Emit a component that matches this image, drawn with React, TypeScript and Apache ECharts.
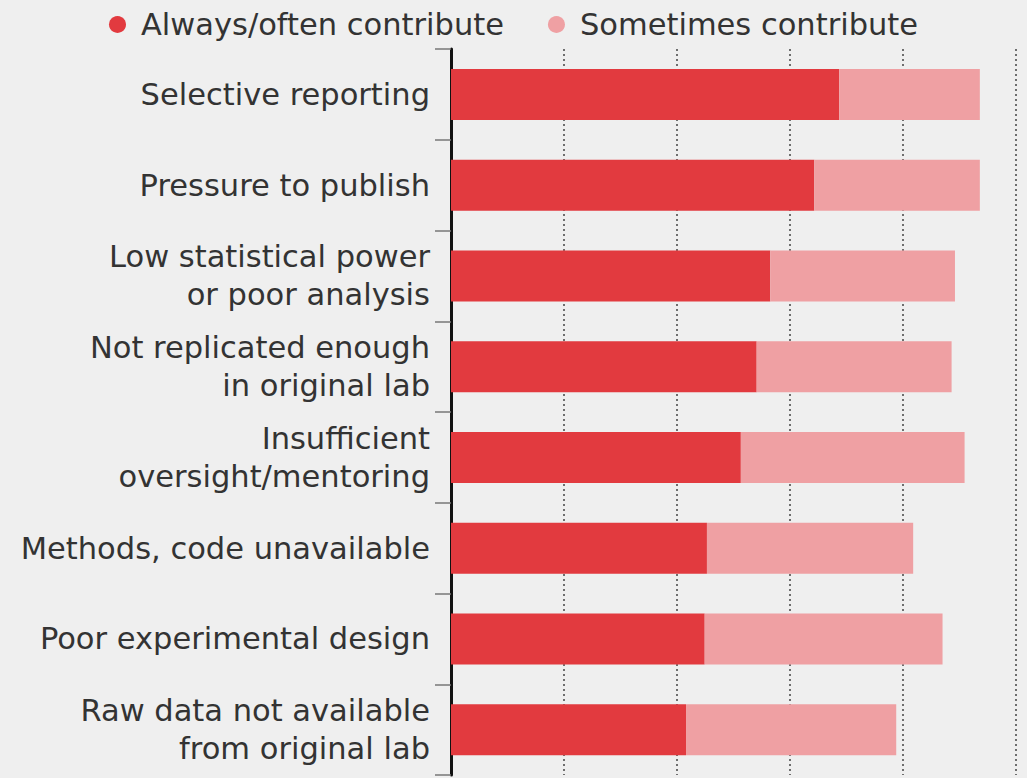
import React, { useEffect, useRef } from "react";
import * as echarts from "echarts";

const categories = [
  "Selective reporting",
  "Pressure to publish",
  "Low statistical power\nor poor analysis",
  "Not replicated enough\nin original lab",
  "Insufficient\noversight/mentoring",
  "Methods, code unavailable",
  "Poor experimental design",
  "Raw data not available\nfrom original lab",
];
const alwaysOften = [68.7, 64.3, 56.5, 54.1, 51.3, 45.3, 44.9, 41.6];
const sometimes = [24.9, 29.3, 32.7, 34.5, 39.6, 36.5, 42.1, 37.2];
const seriesNames = ["Always/often contribute", "Sometimes contribute"];

const FONT = "DejaVu Sans";

export default function App() {
  const ref = useRef<HTMLDivElement>(null);
  useEffect(() => {
    if (!ref.current) return;
    const chart = echarts.init(ref.current, undefined, { renderer: "svg" });
    chart.setOption({
      animation: false,
      backgroundColor: "#efefef",
      textStyle: { fontFamily: FONT },
      legend: {
        top: 4,
        left: 104,
        icon: "circle",
        itemWidth: 17,
        itemHeight: 17,
        itemGap: 44,
        textStyle: {
          fontSize: 30.5,
          color: "#333",
          fontFamily: FONT,
          padding: [0, 0, 0, 10],
        },
        data: seriesNames,
      },
      grid: { left: 451, right: 11, top: 49, bottom: 3, containLabel: false },
      xAxis: {
        type: "value",
        min: 0,
        max: 100,
        interval: 20,
        axisLabel: { show: false },
        axisLine: { show: false },
        axisTick: { show: false },
        splitLine: {
          show: true,
          lineStyle: { type: [2, 3], color: "#444", width: 1.5 },
        },
      },
      yAxis: {
        type: "category",
        inverse: true,
        data: categories,
        axisLine: { show: true, lineStyle: { color: "#111", width: 3 } },
        axisTick: {
          show: true,
          length: 16,
          alignWithLabel: false,
          lineStyle: { color: "#777", width: 1.5 },
        },
        axisLabel: {
          margin: 21,
          fontSize: 30.5,
          lineHeight: 38,
          color: "#333",
          fontFamily: FONT,
        },
      },
      series: [
        {
          name: seriesNames[0],
          type: "bar",
          stack: "total",
          data: alwaysOften,
          barWidth: 51,
          itemStyle: { color: "#e23a3f" },
        },
        {
          name: seriesNames[1],
          type: "bar",
          stack: "total",
          data: sometimes,
          barWidth: 51,
          itemStyle: { color: "#efa0a3" },
        },
      ],
    });
    return () => chart.dispose();
  }, []);
  return (
    <div
      ref={ref}
      style={{ position: "fixed", left: 0, top: 0, width: 1027, height: 778 }}
    />
  );
}
